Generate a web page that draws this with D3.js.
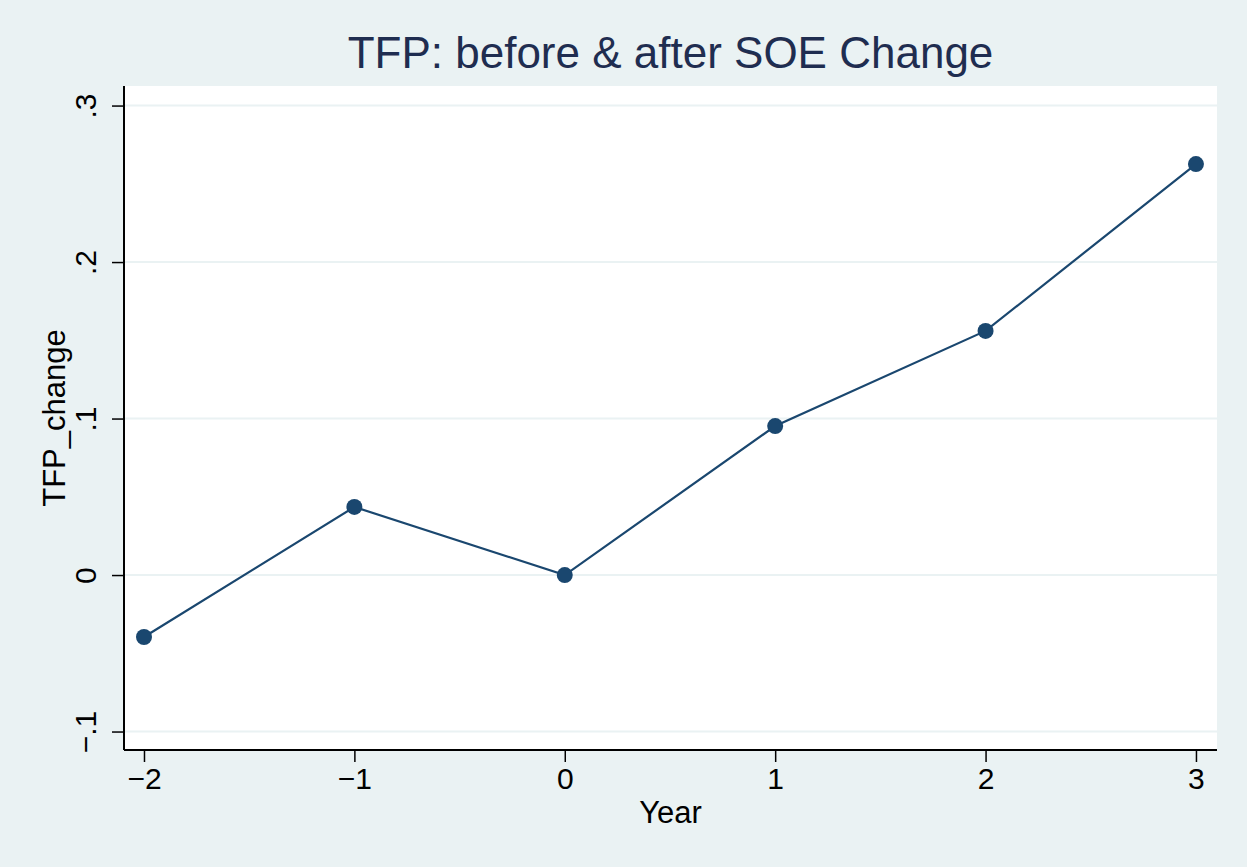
<!DOCTYPE html>
<html><head><meta charset="utf-8">
<script src="https://cdn.jsdelivr.net/npm/d3@7"></script>
<style>html,body{margin:0;padding:0;background:#eaf2f3;}svg{display:block;}</style>
</head><body>
<svg id="c" width="1247" height="867"></svg>
<script>
const years = [-2, -1, 0, 1, 2, 3];
const tfpChange = [-0.0396, 0.0435, 0.0, 0.0952, 0.156, 0.2626];
const xTicks = [-2, -1, 0, 1, 2, 3];
const xTickLabels = ["\u22122", "\u22121", "0", "1", "2", "3"];
const yTicks = [-0.1, 0, 0.1, 0.2, 0.3];
const yTickLabels = ["\u2212.1", "0", ".1", ".2", ".3"];
const title = "TFP: before & after SOE Change";
const xTitle = "Year";
const yTitle = "TFP_change";

const W = 1247, H = 867;
const m = {left: 124, right: 1217, top: 86, bottom: 750};
const navy = "#1a476f", titleCol = "#1f2d50", bg = "#eaf2f3";
const svg = d3.select("#c");
svg.append("rect").attr("width", W).attr("height", H).attr("fill", bg);
svg.append("rect").attr("x", m.left).attr("y", m.top).attr("width", m.right - m.left).attr("height", m.bottom - m.top).attr("fill", "#fff");

const x = d3.scaleLinear().domain([-2.095, 3.1]).range([m.left, m.right]);
const y = d3.scaleLinear().domain([-0.1118, 0.3125]).range([m.bottom, m.top]);

// gridlines
svg.append("g").selectAll("line").data(yTicks).join("line")
  .attr("x1", m.left).attr("x2", m.right)
  .attr("y1", d => y(d)).attr("y2", d => y(d))
  .attr("stroke", bg).attr("stroke-width", 2);

const font = "'Liberation Sans', Helvetica, Arial, sans-serif";

// y axis
const yAxis = svg.append("g").attr("transform", `translate(${m.left},0)`)
  .call(d3.axisLeft(y).tickValues(yTicks).tickSize(12).tickPadding(20).tickFormat((d, i) => yTickLabels[i]));
yAxis.select(".domain").attr("d", `M0,${m.top}V${m.bottom}`).attr("stroke", "#000").attr("stroke-width", 2);
yAxis.selectAll(".tick line").attr("stroke", "#000").attr("stroke-width", 1.5);
yAxis.selectAll(".tick text")
  .attr("font-family", font).attr("font-size", 30).attr("fill", "#000")
  .attr("text-anchor", "middle").attr("x", 0).attr("dy", 0)
  .attr("transform", "translate(-28,0) rotate(-90)");

// x axis
const xAxis = svg.append("g").attr("transform", `translate(0,${m.bottom})`)
  .call(d3.axisBottom(x).tickValues(xTicks).tickSize(12).tickPadding(6).tickFormat((d, i) => xTickLabels[i]));
xAxis.select(".domain").attr("d", `M${m.left},0H${m.right}`).attr("stroke", "#000").attr("stroke-width", 2);
xAxis.selectAll(".tick line").attr("stroke", "#000").attr("stroke-width", 1.5);
xAxis.selectAll(".tick text").attr("font-family", font).attr("font-size", 30).attr("fill", "#000");

// line
const pts = years.map((d, i) => [d, tfpChange[i]]);
svg.append("path").datum(pts)
  .attr("d", d3.line().x(d => x(d[0])).y(d => y(d[1])))
  .attr("fill", "none").attr("stroke", navy).attr("stroke-width", 2.2);
svg.append("g").selectAll("circle").data(pts).join("circle")
  .attr("cx", d => x(d[0])).attr("cy", d => y(d[1])).attr("r", 8).attr("fill", navy);

// titles
svg.append("text").attr("x", (m.left + m.right) / 2).attr("y", 68)
  .attr("text-anchor", "middle").attr("font-family", font).attr("font-size", 44).attr("fill", titleCol).text(title);
svg.append("text").attr("x", (m.left + m.right) / 2).attr("y", 823)
  .attr("text-anchor", "middle").attr("font-family", font).attr("font-size", 31).attr("fill", "#000").text(xTitle);
svg.append("text").attr("transform", `translate(65,${(m.top + m.bottom) / 2}) rotate(-90)`)
  .attr("text-anchor", "middle").attr("font-family", font).attr("font-size", 31).attr("fill", "#000").text(yTitle);
</script>
</body></html>
